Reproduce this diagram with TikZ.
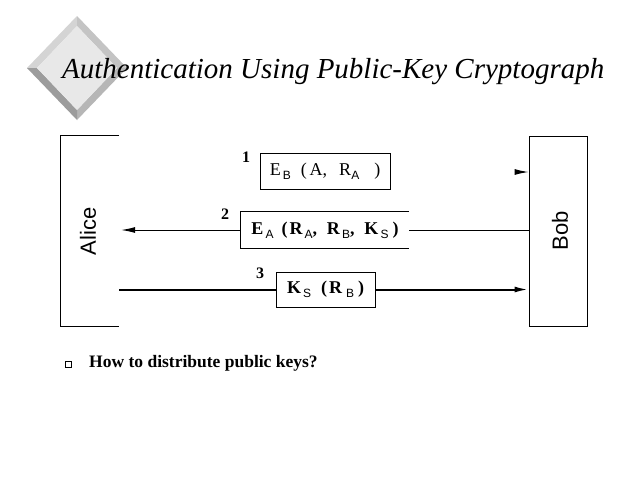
\documentclass[tikz,border=0pt]{standalone}
\usepackage{fontspec}
\setmainfont{Liberation Serif}
\newfontfamily\arialfont{Liberation Sans}
\usetikzlibrary{arrows.meta}

% small sans-serif subscript, set below the baseline
\newcommand\lowsf[1]{\raisebox{-4pt}{\arialfont\mdseries\fontsize{12}{12}\selectfont #1}}

\definecolor{bevelTL}{HTML}{D4D4D4}
\definecolor{bevelTR}{HTML}{C4C4C4}
\definecolor{bevelBR}{HTML}{B6B6B6}
\definecolor{bevelBL}{HTML}{9C9C9C}
\definecolor{bevelFace}{HTML}{E8E8E8}

\tikzset{
  thinline/.style={line width=1pt},
  thickline/.style={line width=2pt},
  tip/.style={-{Latex[length=14pt,width=6pt]}},
  party/.style={minimum width=58pt, minimum height=190pt, inner sep=0pt},
  partyname/.style={rotate=90, font=\arialfont\fontsize{22}{22}\selectfont},
  msgbox/.style={inner sep=0pt, font=\fontsize{18}{18}\selectfont},
  boldmsg/.style={font=\bfseries\fontsize{18}{18}\selectfont},
  stepnum/.style={font=\bfseries\fontsize{16}{16}\selectfont},
}

\begin{document}
\begin{tikzpicture}[x=1pt,y=-1pt]
\useasboundingbox (0,0) rectangle (640,480);
\fill[white] (0,0) rectangle (640,480);

% bevelled diamond ornament
\coordinate (dT) at (77,16);  \coordinate (dR) at (127,68);
\coordinate (dB) at (77,120); \coordinate (dL) at (27,68);
\coordinate (iT) at (77,26);  \coordinate (iR) at (117,68);
\coordinate (iB) at (77,110); \coordinate (iL) at (37,68);
\fill[bevelTL] (dL) -- (dT) -- (iT) -- (iL) -- cycle;
\fill[bevelTR] (dT) -- (dR) -- (iR) -- (iT) -- cycle;
\fill[bevelBR] (dR) -- (dB) -- (iB) -- (iR) -- cycle;
\fill[bevelBL] (dB) -- (dL) -- (iL) -- (iB) -- cycle;
\fill[bevelFace] (iT) -- (iR) -- (iB) -- (iL) -- cycle;

% title
\node[anchor=base west, inner sep=0pt, font=\itshape\fontsize{29}{29}\selectfont]
  (title) at (62,78) {Authentication Using Public-Key Cryptograph};

% the two parties
\node[party] (alice) at (90,231) {};
\draw[thinline] (alice.north east) -- (alice.north west) -- (alice.south west) -- (alice.south east);
\node[partyname] (alicename) at (88,231.5) {Alice};

\node[party, draw, thinline] (bob) at (558,231) {};
\node[partyname] (bobname) at (560,230.5) {Bob};

% message 1
\node[stepnum] (n1) at (246,157) {1};
\node[msgbox, draw, thinline, minimum width=130pt, minimum height=36pt] (m1) at (325,171)
  {E\hspace{2pt}\lowsf{B}\hspace{10pt}(\hspace{3pt}A,\hspace{12pt}R\lowsf{A}\hspace{15pt})};
\coordinate (t1) at (515,172);
\draw[thinline, tip] (t1) -- (bob.west |- t1);

% message 2
\node[stepnum] (n2) at (225,214) {2};
\node[msgbox, boldmsg, minimum width=168pt, minimum height=36pt] (m2) at (325,230)
  {E\hspace{2pt}\lowsf{A}\hspace{8pt}(\hspace{2pt}R\hspace{2pt}\lowsf{A},\hspace{10pt}R\hspace{2pt}\lowsf{B},\hspace{10pt}K\hspace{2pt}\lowsf{S}\hspace{4pt})};
\draw[thinline] (m2.north east) -- (m2.north west) -- (m2.south west) -- (m2.south east);
\draw[thinline] (bob.west |- m2.east) -- (m2.east);
\draw[thinline, tip] (m2.west) -- ([xshift=2pt]alice.east |- m2.west);

% message 3
\node[stepnum] (n3) at (260,273) {3};
\node[msgbox, boldmsg, draw, thinline, minimum width=99pt, minimum height=35pt] (m3) at (325.5,289.5)
  {K\hspace{2pt}\lowsf{S}\hspace{10pt}(\hspace{2pt}R\hspace{4pt}\lowsf{B}\hspace{4pt})};
\draw[thickline] (alice.east |- m3.west) -- (m3.west);
\draw[thickline, tip] (m3.east) -- (bob.west |- m3.east);

% closing question
\node[draw, thinline, minimum size=6pt, inner sep=0pt] (bullet) at (68,364) {};
\node[anchor=base west, inner sep=0pt, font=\bfseries\fontsize{17.5}{17.5}\selectfont]
  (question) at (89,367) {How to distribute public keys?};
\end{tikzpicture}
\end{document}
